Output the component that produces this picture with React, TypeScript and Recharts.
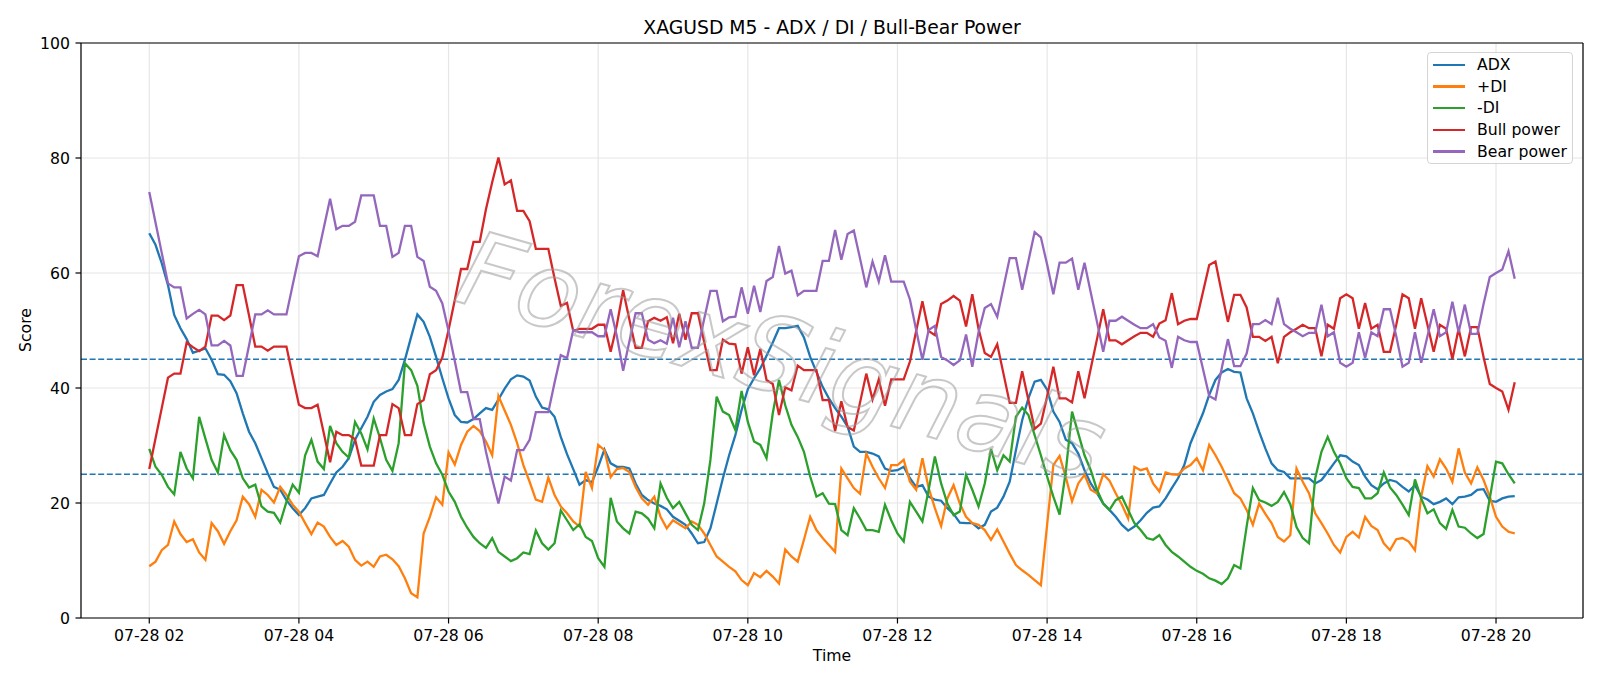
import React from 'react'
import { LineChart, Line, XAxis, YAxis, CartesianGrid, ReferenceLine } from 'recharts'

// 5-minute bars, 07-28 02:00 .. 20:15
const tickLabels = ['07-28 02', '07-28 04', '07-28 06', '07-28 08', '07-28 10', '07-28 12', '07-28 14', '07-28 16', '07-28 18', '07-28 20']
const barsPerTick = 24
const yTicks = [0, 20, 40, 60, 80, 100]
const levels = [25, 45]

const adx = [
  66.9, 64.9, 61.7, 57.9, 52.7, 50.4, 48.5, 46.1, 46.5, 46.9,
  44.9, 42.4, 42.3, 41.2, 39.1, 35.6, 32.4, 30.4, 27.8, 25.2,
  22.8, 22.3, 20.5, 19.1, 17.9, 19.1, 20.8, 21.1, 21.4, 23.4,
  25.3, 26.3, 27.8, 31.0, 33.0, 35.0, 37.6, 38.8, 39.4, 39.8,
  41.4, 44.9, 48.9, 52.8, 51.5, 48.9, 45.4, 41.7, 38.2, 35.3,
  34.1, 34.0, 34.6, 35.6, 36.5, 36.2, 38.0, 39.9, 41.5, 42.2,
  42.0, 41.3, 38.5, 36.6, 36.3, 35.0, 31.5, 28.5, 25.9, 23.2,
  24.0, 23.6, 26.3, 29.3, 26.9, 26.3, 26.3, 26.0, 23.4, 21.4,
  20.5, 19.9, 19.5, 18.9, 17.6, 16.9, 16.2, 14.7, 13.0, 13.2,
  15.6, 19.9, 24.3, 28.3, 31.8, 36.2, 39.8, 41.7, 43.4, 45.6,
  47.9, 50.4, 50.4, 50.6, 50.8, 48.8, 45.4, 42.8, 40.2, 38.2,
  36.5, 35.0, 33.3, 29.8, 28.9, 28.9, 28.6, 28.1, 26.0, 25.6,
  25.7, 26.3, 24.3, 22.8, 23.1, 21.1, 20.6, 20.4, 19.1, 18.1,
  16.6, 16.5, 16.5, 15.6, 16.2, 18.5, 19.2, 21.1, 23.7, 29.2,
  34.4, 38.2, 41.1, 41.4, 39.7, 35.9, 34.1, 31.0, 30.4, 28.6,
  25.7, 23.4, 21.7, 19.9, 18.8, 17.6, 16.2, 15.2, 15.9, 17.0,
  18.3, 19.2, 19.4, 20.8, 22.6, 24.3, 26.6, 30.4, 33.0, 35.6,
  38.8, 41.4, 42.7, 43.3, 42.8, 42.7, 38.2, 35.6, 32.4, 29.5,
  26.9, 25.7, 25.4, 24.3, 24.3, 24.3, 24.3, 23.4, 24.0, 25.4,
  26.9, 28.3, 28.1, 27.2, 26.6, 24.6, 23.1, 22.4, 23.4, 24.0,
  23.7, 22.8, 22.0, 23.1, 21.1, 20.6, 19.8, 20.2, 20.8, 19.8,
  21.0, 21.1, 21.4, 22.3, 22.4, 20.4, 20.2, 20.8, 21.1, 21.2,
]

const plusDI = [
  9.0, 9.8, 11.8, 12.7, 16.8, 14.6, 13.2, 13.7, 11.4, 10.1,
  16.5, 15.1, 12.9, 15.1, 17.0, 21.1, 19.8, 17.6, 22.3, 21.4,
  20.1, 22.8, 21.4, 19.7, 18.5, 16.5, 14.6, 16.6, 15.9, 14.1,
  12.7, 13.4, 12.4, 10.1, 9.1, 9.8, 8.9, 10.7, 11.0, 10.2,
  9.0, 6.9, 4.3, 3.6, 14.7, 17.6, 21.0, 19.7, 28.8, 26.7,
  30.1, 32.4, 33.4, 32.5, 30.7, 28.3, 38.6, 36.1, 33.6, 30.4,
  26.6, 23.7, 20.6, 20.2, 24.4, 21.4, 19.4, 18.2, 16.8, 15.9,
  25.4, 22.6, 30.1, 29.2, 24.5, 25.9, 26.1, 25.4, 22.8, 20.8,
  19.7, 21.1, 17.6, 15.6, 17.0, 16.3, 15.6, 16.8, 16.2, 14.7,
  12.7, 10.7, 9.8, 8.9, 8.1, 6.6, 5.7, 7.8, 7.1, 8.2,
  7.2, 6.0, 11.9, 10.7, 9.8, 13.6, 17.6, 15.3, 13.9, 12.7,
  11.5, 26.0, 24.3, 22.6, 21.6, 28.6, 26.3, 24.3, 22.6, 26.6,
  26.6, 27.5, 23.7, 22.3, 27.8, 22.6, 19.1, 16.0, 20.8, 23.1,
  19.9, 17.6, 16.5, 16.2, 15.3, 13.6, 15.4, 13.3, 11.2, 9.2,
  8.3, 7.5, 6.6, 5.7, 16.2, 26.6, 28.2, 24.5, 20.3, 23.4,
  24.9, 22.3, 21.7, 25.0, 23.9, 21.7, 19.7, 17.3, 26.3, 25.7,
  26.0, 23.4, 22.0, 25.3, 25.0, 24.9, 26.0, 26.6, 27.8, 25.7,
  30.1, 28.3, 26.3, 24.0, 21.7, 20.8, 18.8, 16.2, 19.9, 18.1,
  16.5, 14.1, 13.3, 14.4, 26.0, 23.7, 21.7, 18.2, 16.5, 14.7,
  12.7, 11.4, 14.1, 15.0, 14.0, 17.6, 16.0, 15.3, 13.0, 11.8,
  13.7, 13.9, 13.3, 11.8, 21.1, 26.4, 24.6, 27.6, 26.0, 23.7,
  29.5, 25.3, 23.4, 26.2, 24.0, 21.1, 17.6, 15.9, 15.0, 14.7,
]

const minusDI = [
  29.4, 26.3, 24.9, 22.8, 21.5, 28.9, 26.0, 24.3, 35.0, 31.2,
  27.5, 25.3, 31.8, 29.2, 27.5, 24.3, 22.7, 23.2, 19.4, 18.5,
  18.3, 16.6, 20.2, 23.2, 21.8, 28.3, 31.0, 27.2, 25.9, 33.4,
  30.4, 28.9, 27.9, 34.1, 32.1, 29.3, 34.7, 31.3, 27.5, 25.6,
  30.4, 44.3, 43.1, 40.4, 33.9, 29.8, 26.9, 24.9, 22.0, 20.2,
  17.6, 15.7, 14.1, 13.0, 12.2, 13.9, 11.5, 10.7, 9.9, 10.4,
  11.4, 11.1, 15.2, 13.0, 11.9, 13.0, 18.7, 17.0, 15.3, 16.3,
  14.1, 13.4, 10.4, 8.9, 20.9, 16.8, 15.6, 14.7, 18.5, 18.2,
  17.3, 15.6, 23.4, 20.9, 19.1, 20.2, 18.2, 16.2, 15.3, 19.9,
  27.5, 38.5, 35.9, 35.3, 32.7, 39.5, 34.1, 30.7, 30.1, 27.8,
  35.6, 41.4, 37.0, 33.6, 31.5, 28.9, 24.6, 21.1, 21.7, 19.9,
  19.8, 15.3, 14.4, 19.1, 17.3, 15.3, 15.3, 15.0, 19.7, 17.0,
  14.7, 13.3, 20.2, 18.5, 16.8, 22.3, 28.1, 23.4, 19.9, 17.9,
  18.5, 24.9, 22.3, 19.4, 23.4, 29.4, 25.7, 28.3, 27.2, 35.0,
  36.6, 35.3, 31.8, 28.3, 24.6, 21.1, 18.0, 25.5, 35.9, 32.1,
  28.3, 25.7, 22.3, 19.9, 18.8, 20.5, 21.1, 18.8, 16.5, 15.3,
  13.9, 13.6, 14.4, 12.7, 11.5, 10.7, 9.8, 8.9, 8.2, 7.7,
  6.9, 6.5, 5.9, 6.9, 9.2, 8.6, 15.9, 22.6, 20.5, 20.1,
  19.5, 20.2, 21.9, 19.8, 15.8, 13.9, 13.0, 24.3, 28.9, 31.5,
  28.9, 26.9, 24.3, 22.8, 22.6, 20.8, 20.8, 21.7, 25.3, 22.7,
  21.4, 19.7, 17.9, 24.1, 20.8, 18.2, 18.9, 16.5, 15.5, 18.8,
  15.9, 15.7, 14.7, 13.9, 14.6, 20.8, 27.2, 26.9, 25.0, 23.4,
]

const bullPower = [
  25.9, 31.2, 36.5, 41.8, 42.5, 42.5, 47.9, 47.1, 46.4, 47.2,
  52.6, 52.6, 51.8, 52.6, 57.9, 57.9, 52.6, 47.2, 47.2, 46.5,
  47.2, 47.2, 47.2, 42.1, 37.1, 36.5, 36.5, 37.1, 32.1, 27.1,
  32.4, 31.8, 31.8, 31.1, 26.5, 26.5, 26.5, 31.8, 31.8, 37.2,
  36.5, 31.8, 31.8, 37.2, 37.9, 42.4, 43.1, 45.3, 50.1, 55.3,
  60.7, 60.7, 65.4, 65.4, 71.1, 75.8, 80.1, 75.4, 76.1, 70.8,
  70.8, 69.0, 64.2, 64.2, 64.2, 59.1, 54.3, 54.8, 49.9, 50.3,
  50.3, 50.3, 51.0, 51.0, 46.3, 51.0, 57.0, 51.9, 47.0, 47.0,
  51.6, 52.2, 51.7, 52.3, 47.8, 52.9, 48.4, 53.0, 53.0, 48.0,
  43.1, 43.1, 48.4, 47.7, 47.6, 42.5, 47.1, 42.2, 46.8, 41.4,
  40.7, 35.3, 40.1, 39.6, 43.9, 43.1, 43.1, 43.1, 37.9, 37.9,
  32.5, 37.7, 33.2, 32.6, 37.5, 42.5, 38.0, 41.5, 36.9, 41.5,
  41.5, 41.5, 44.6, 49.9, 55.1, 49.9, 49.2, 54.6, 55.2, 56.0,
  55.2, 50.7, 56.3, 50.3, 46.1, 45.4, 47.6, 42.5, 37.4, 37.4,
  42.9, 37.9, 32.9, 33.8, 38.5, 43.7, 38.2, 38.2, 37.5, 42.9,
  38.2, 43.4, 48.5, 53.7, 48.3, 48.3, 47.6, 48.3, 49.0, 49.6,
  49.6, 48.9, 51.2, 51.8, 56.5, 51.1, 51.7, 52.0, 52.0, 56.7,
  61.4, 62.0, 56.6, 51.5, 56.2, 56.2, 54.0, 48.9, 48.9, 48.2,
  48.9, 44.3, 48.9, 49.7, 50.3, 51.0, 50.4, 50.4, 45.5, 51.0,
  50.3, 55.6, 56.3, 55.6, 50.3, 54.8, 50.3, 51.0, 46.3, 46.3,
  51.0, 56.3, 55.6, 50.3, 55.6, 51.0, 46.3, 51.0, 50.3, 45.0,
  50.3, 45.5, 50.6, 50.6, 45.4, 40.7, 40.0, 39.4, 36.2, 41.0,
]

const bearPower = [
  74.1, 68.8, 63.5, 58.2, 57.5, 57.5, 52.1, 52.9, 53.6, 52.8,
  47.4, 47.4, 48.2, 47.4, 42.1, 42.1, 47.4, 52.8, 52.8, 53.5,
  52.8, 52.8, 52.8, 57.9, 62.9, 63.5, 63.5, 62.9, 67.9, 72.9,
  67.6, 68.2, 68.2, 68.9, 73.5, 73.5, 73.5, 68.2, 68.2, 62.8,
  63.5, 68.2, 68.2, 62.8, 62.1, 57.6, 56.9, 54.7, 49.9, 44.7,
  39.3, 39.3, 34.6, 34.6, 28.9, 24.2, 19.9, 24.6, 23.9, 29.2,
  29.2, 31.0, 35.8, 35.8, 35.8, 40.9, 45.7, 45.2, 50.1, 49.7,
  49.7, 49.7, 49.0, 49.0, 53.7, 49.0, 43.0, 48.1, 53.0, 53.0,
  48.4, 47.8, 48.3, 47.7, 52.2, 47.1, 51.6, 47.0, 47.0, 52.0,
  56.9, 56.9, 51.6, 52.3, 52.4, 57.5, 52.9, 57.8, 53.2, 58.6,
  59.3, 64.7, 59.9, 60.4, 56.1, 56.9, 56.9, 56.9, 62.1, 62.1,
  67.5, 62.3, 66.8, 67.4, 62.5, 57.5, 62.0, 58.5, 63.1, 58.5,
  58.5, 58.5, 55.4, 50.1, 44.9, 50.1, 50.8, 45.4, 44.8, 44.0,
  44.8, 49.3, 43.7, 49.7, 53.9, 54.6, 52.4, 57.5, 62.6, 62.6,
  57.1, 62.1, 67.1, 66.2, 61.5, 56.3, 61.8, 61.8, 62.5, 57.1,
  61.8, 56.6, 51.5, 46.3, 51.7, 51.7, 52.4, 51.7, 51.0, 50.4,
  50.4, 51.1, 48.8, 48.2, 43.5, 48.9, 48.3, 48.0, 48.0, 43.3,
  38.6, 38.0, 43.4, 48.5, 43.8, 43.8, 46.0, 51.1, 51.1, 51.8,
  51.1, 55.7, 51.1, 50.3, 49.7, 49.0, 49.6, 49.6, 54.5, 49.0,
  49.7, 44.4, 43.7, 44.4, 49.7, 45.2, 49.7, 49.0, 53.7, 53.7,
  49.0, 43.7, 44.4, 49.7, 44.4, 49.0, 53.7, 49.0, 49.7, 55.0,
  49.7, 54.5, 49.4, 49.4, 54.6, 59.3, 60.0, 60.6, 63.8, 59.0,
]

const series = [
  { key: 'adx', name: 'ADX', color: '#1f77b4' },
  { key: 'pdi', name: '+DI', color: '#ff7f0e' },
  { key: 'mdi', name: '-DI', color: '#2ca02c' },
  { key: 'bull', name: 'Bull power', color: '#d62728' },
  { key: 'bear', name: 'Bear power', color: '#9467bd' },
]

const data = adx.map((v, i) => ({
  i,
  adx: v,
  pdi: plusDI[i],
  mdi: minusDI[i],
  bull: bullPower[i],
  bear: bearPower[i],
}))

const tickPositions = tickLabels.map((_, k) => k * barsPerTick)
const pad = (data.length - 1) * 0.05
const xDomain = [-pad, data.length - 1 + pad]

const FONT = "'DejaVu Sans', sans-serif"
const W = 1600
const H = 686

export default function App() {
  return (
    <div style={{ position: 'absolute', left: 0, top: 0, width: W, height: H, background: '#fff', fontFamily: FONT }}>
      <LineChart width={W} height={H} data={data} margin={{ top: 43, right: 17, bottom: 0, left: 0 }}>
        <CartesianGrid stroke="#e6e6e6" strokeWidth={1.2} />
        <XAxis
          dataKey="i"
          type="number"
          domain={xDomain}
          allowDataOverflow
          ticks={tickPositions}
          tickFormatter={(v: number) => tickLabels[Math.round(v / barsPerTick)] ?? ''}
          height={68}
          tickSize={5.5}
          tickMargin={6}
          tick={{ fill: '#000', fontSize: 15.7, fontFamily: FONT }}
          tickLine={{ stroke: '#000', strokeWidth: 1.2 }}
          axisLine={{ stroke: '#000', strokeWidth: 1.2 }}
        />
        <YAxis
          type="number"
          domain={[0, 100]}
          ticks={yTicks}
          width={81}
          tickSize={5.5}
          tickMargin={5.5}
          tick={{ fill: '#000', fontSize: 15.7, fontFamily: FONT }}
          tickLine={{ stroke: '#000', strokeWidth: 1.2 }}
          axisLine={{ stroke: '#000', strokeWidth: 1.2 }}
        />
        <ReferenceLine y={100} stroke="#000" strokeWidth={1.2} />
        <ReferenceLine x={xDomain[1]} stroke="#000" strokeWidth={1.2} />
        {levels.map((lv) => (
          <ReferenceLine key={lv} y={lv} stroke="#1f77b4" strokeWidth={1.5} strokeDasharray="6 2.6" />
        ))}
        {series.map((s) => (
          <Line
            key={s.key}
            type="linear"
            dataKey={s.key}
            name={s.name}
            stroke={s.color}
            strokeWidth={2.3}
            dot={false}
            isAnimationActive={false}
          />
        ))}
      </LineChart>

      <svg width={W} height={H} style={{ position: 'absolute', left: 0, top: 0, pointerEvents: 'none' }}>
        <text x={832} y={33.5} textAnchor="middle" fontSize={18.8} fontFamily={FONT} fill="#000">
          XAGUSD M5 - ADX / DI / Bull-Bear Power
        </text>
        <text x={832} y={661} textAnchor="middle" fontSize={15.7} fontFamily={FONT} fill="#000">
          Time
        </text>
        <text
          x={31}
          y={330}
          textAnchor="middle"
          fontSize={15.7}
          fontFamily={FONT}
          fill="#000"
          transform="rotate(-90 31 330)"
        >
          Score
        </text>
        <text
          x={452}
          y={300}
          fontSize={104}
          fontStyle="italic"
          fontFamily={FONT}
          fill="none"
          stroke="#9a9a9a"
          strokeOpacity={0.55}
          strokeWidth={2}
          transform="rotate(16 452 300)"
        >
          ForexSignals
        </text>
      </svg>

      <div
        style={{
          position: 'absolute',
          left: 1427,
          top: 52,
          width: 146,
          height: 112,
          border: '1px solid #d4d4d4',
          borderRadius: 4,
          background: 'rgba(255,255,255,0.8)',
          boxSizing: 'border-box',
          paddingTop: 1,
        }}
      >
        {series.map((s) => (
          <div key={s.key} style={{ display: 'flex', alignItems: 'center', height: 21.7, fontSize: 15.7, color: '#000' }}>
            <div style={{ width: 32, height: 2.3, background: s.color, marginLeft: 5, marginRight: 12 }} />
            <span style={{ lineHeight: 1 }}>{s.name}</span>
          </div>
        ))}
      </div>
    </div>
  )
}
